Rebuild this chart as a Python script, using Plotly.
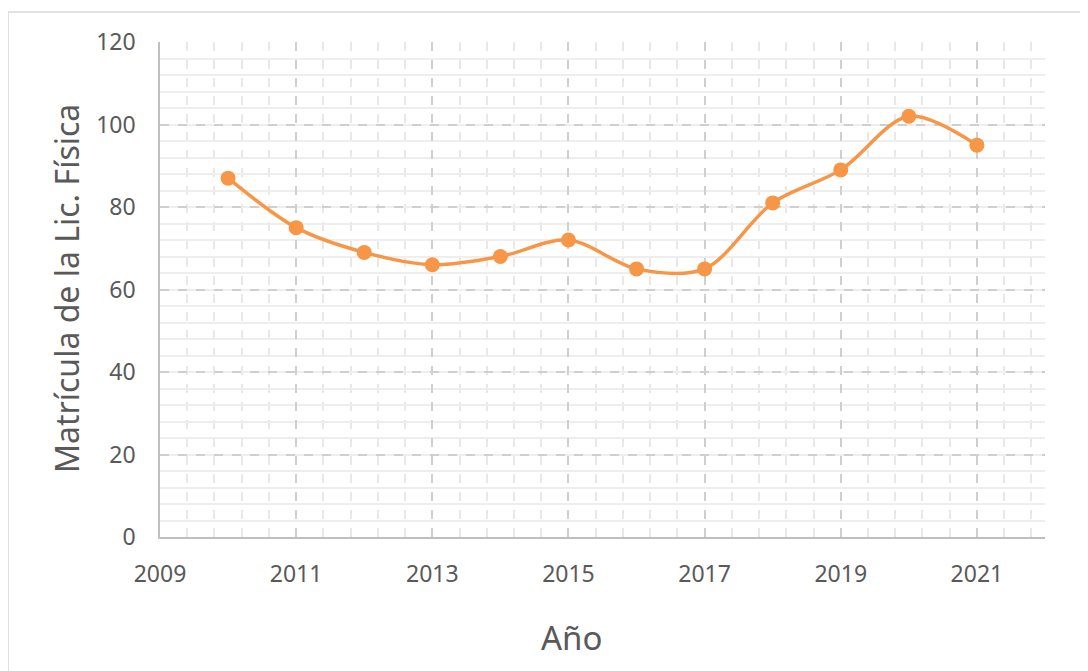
import plotly.graph_objects as go

years = [2010, 2011, 2012, 2013, 2014, 2015, 2016, 2017, 2018, 2019, 2020, 2021]
matricula = [87, 75, 69, 66, 68, 72, 65, 65, 81, 89, 102, 95]
x_ticks = [2009, 2011, 2013, 2015, 2017, 2019, 2021]
y_ticks = [0, 20, 40, 60, 80, 100, 120]

# page has an 8px body margin; figure sized to fit the window
OFF = 8
W, H = 1088 - OFF, 671 - OFF
L, R, T, B = 160 - OFF, 43, 42 - OFF, 134
pw, ph = W - L - R, H - T - B

def px(xpage):
    return (xpage - OFF - L) / pw

def py(ypage):
    return (H - B - (ypage - OFF)) / ph

FONT = "Noto Sans"
TXT = "#595959"

fig = go.Figure()
fig.add_trace(go.Scatter(
    x=years, y=matricula, mode="lines+markers",
    line=dict(color="#F79646", width=3.5, shape="spline", smoothing=0.9),
    marker=dict(color="#F79646", size=15),
    showlegend=False,
))

fig.update_layout(
    width=W, height=H,
    margin=dict(l=L, r=R, t=T, b=B),
    paper_bgcolor="white", plot_bgcolor="white",
    font=dict(family=FONT, color=TXT),
    xaxis=dict(
        range=[2009, 2022], tickmode="array", tickvals=x_ticks,
        showgrid=True, gridcolor="#cfcfcf", griddash="dash", gridwidth=1.5,
        minor=dict(dtick=0.4, tick0=2009, showgrid=True, gridcolor="#e8e8e8", griddash="dash", gridwidth=1.5),
        showline=True, linecolor="#bfbfbf", linewidth=1.5,
        zeroline=False, ticks="", tickfont=dict(size=23, color=TXT, family=FONT),
        ticklabelstandoff=16,
    ),
    yaxis=dict(
        range=[0, 120], tickmode="array", tickvals=y_ticks,
        showgrid=True, gridcolor="#cfcfcf", griddash="dash", gridwidth=1.5,
        minor=dict(dtick=4, tick0=0, showgrid=True, gridcolor="#eeeeee", griddash="solid", gridwidth=1.5),
        showline=True, linecolor="#bfbfbf", linewidth=1.5,
        zeroline=False, ticks="", tickfont=dict(size=23, color=TXT, family=FONT),
        ticklabelstandoff=18,
    ),
    annotations=[
        dict(text="Año", xref="paper", yref="paper", x=px(571), y=py(637),
             showarrow=False, font=dict(size=33, color=TXT, family=FONT),
             xanchor="center", yanchor="middle"),
        dict(text="Matrícula de la Lic. Física", xref="paper", yref="paper",
             x=px(66), y=py(289), textangle=-90, showarrow=False,
             font=dict(size=32, color=TXT, family=FONT),
             xanchor="center", yanchor="middle"),
    ],
    shapes=[
        dict(type="rect", xref="paper", yref="paper",
             x0=px(8), x1=px(1100), y0=py(690), y1=py(12),
             line=dict(color="#d9d9d9", width=1.5), layer="below"),
    ],
)

fig.write_html("out.html")
